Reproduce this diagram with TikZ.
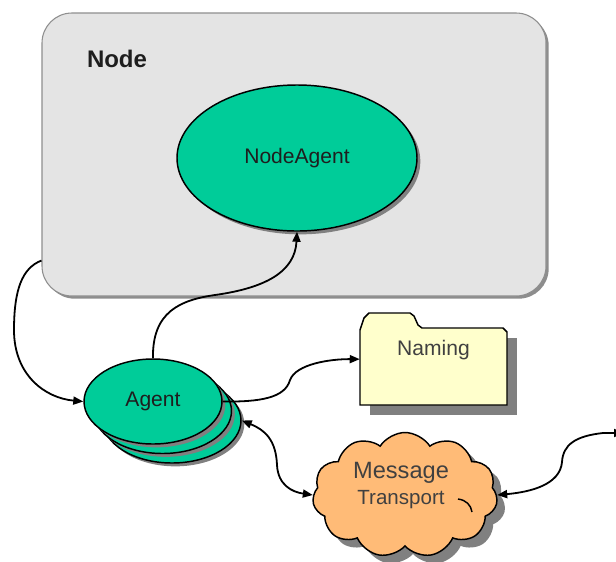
\documentclass[tikz,border=0pt]{standalone}
\usepackage{fontspec}
\setmainfont{Liberation Sans}
\usetikzlibrary{shapes.geometric,shapes.symbols,arrows.meta,shadows,calc}
\definecolor{agentgreen}{HTML}{00CC99}
\definecolor{boxgray}{HTML}{E4E4E4}
\definecolor{boxedge}{HTML}{8E8E8E}
\definecolor{shadowgray}{HTML}{808080}
\definecolor{foldercream}{HTML}{FFFFCC}
\definecolor{cloudorange}{HTML}{FFBB77}
\definecolor{inkdark}{HTML}{1E1E1E}

\begin{document}
\begin{tikzpicture}[x=0.75pt,y=-0.75pt,
  conn/.style={line width=1.35pt, draw=black},
  >={Triangle[length=7.5pt,width=6pt]},
  greenell/.style={ellipse, draw=black, line width=1.1pt, fill=agentgreen, inner sep=0pt},
  softshadow/.style={drop shadow={shadow xshift=2.5pt, shadow yshift=-2.5pt, fill=shadowgray, opacity=1}},
  lbl/.style={text=inkdark, font=\fontsize{15.8}{18}\selectfont}
]
\useasboundingbox (0,0) rectangle (616,561);

% the node container
\node[draw=boxedge, line width=0.8pt, fill=boxgray, rounded corners=22.5pt,
      minimum width=378pt, minimum height=212.25pt,
      drop shadow={shadow xshift=2pt, shadow yshift=-2pt, fill=shadowgray!90, opacity=1}]
      (nodebox) at (294,154.5) {};
\node[font=\bfseries\fontsize{18}{20}\selectfont, text=inkdark] (nodetitle) at (117,59) {Node};

\node[greenell, softshadow, minimum width=180pt, minimum height=109.5pt, lbl] (nodeagent) at (297,158) {NodeAgent};

% stacked agents
\node[greenell, softshadow, minimum width=103.5pt, minimum height=63.75pt] (agent3) at (172,420.5) {};
\node[greenell, softshadow, minimum width=103.5pt, minimum height=63.75pt] (agent2) at (162.5,411) {};
\node[greenell, softshadow, minimum width=103.5pt, minimum height=63.75pt, lbl] (agent) at (153,401.5) {Agent};

% naming folder
\node[minimum width=110.25pt, minimum height=57.75pt] (naming) at (433.5,366.5) {};
\fill[shadowgray] ($(naming.south west)+(10,10)$) rectangle ($(naming.north east)+(10,10)$);
\draw[line width=1.1pt, fill=foldercream]
  (360,405) -- (360,330) -- (364,318) -- (369,313) -- (410,313) -- (414,316) -- (418,325)
  -- (422,328) -- (503,328) -- (507,332) -- (507,405) -- cycle;
\node[lbl, text=inkdark!85] (namingtxt) at ([yshift=12pt]naming.center) {Naming};

% message transport cloud
\node[cloud, cloud puffs=11, cloud puff arc=115, aspect=1.5, draw=black, line width=1.1pt,
      fill=cloudorange, minimum width=138.75pt, minimum height=93.75pt,
      drop shadow={shadow xshift=6pt, shadow yshift=-6pt, fill=shadowgray, opacity=1}]
      (mt) at (405,495) {};
\draw[line width=1.1pt] (458,499) .. controls (466,500) and (471,505) .. (472,512);
\node[text=inkdark!85, align=center, font=\fontsize{15.4}{19.5}\selectfont] (mtlabel) at (401,485)
  {{\fontsize{17.7}{19.5}\selectfont Message}\\Transport};

% connectors
\coordinate (offpage) at (624,433);
\draw[conn,->] ($(nodebox.south west)+(0,-36)$) .. controls (22,268) and (14,290) .. (14,330)
  .. controls (14,375) and (45,398) .. (agent.west);
\draw[conn,->] (agent.north) .. controls (152,312) and (180,300) .. (215,295)
  .. controls (265,288) and (295,272) .. (nodeagent.south);
\draw[conn,->] (agent.east) .. controls (260,402) and (285,398) .. (290,380)
  .. controls (296,364) and (330,359) .. ([yshift=5.5pt]naming.west);
\draw[conn,<->] (agent3.east) .. controls (265,430) and (276,440) .. (277,465)
  .. controls (278,485) and (292,492) .. (mt.west);
\draw[conn,<->] (offpage) -- (603,433) .. controls (575,436) and (563,445) .. (562,462)
  .. controls (560,485) and (530,492) .. (mt.east);
\end{tikzpicture}
\end{document}
